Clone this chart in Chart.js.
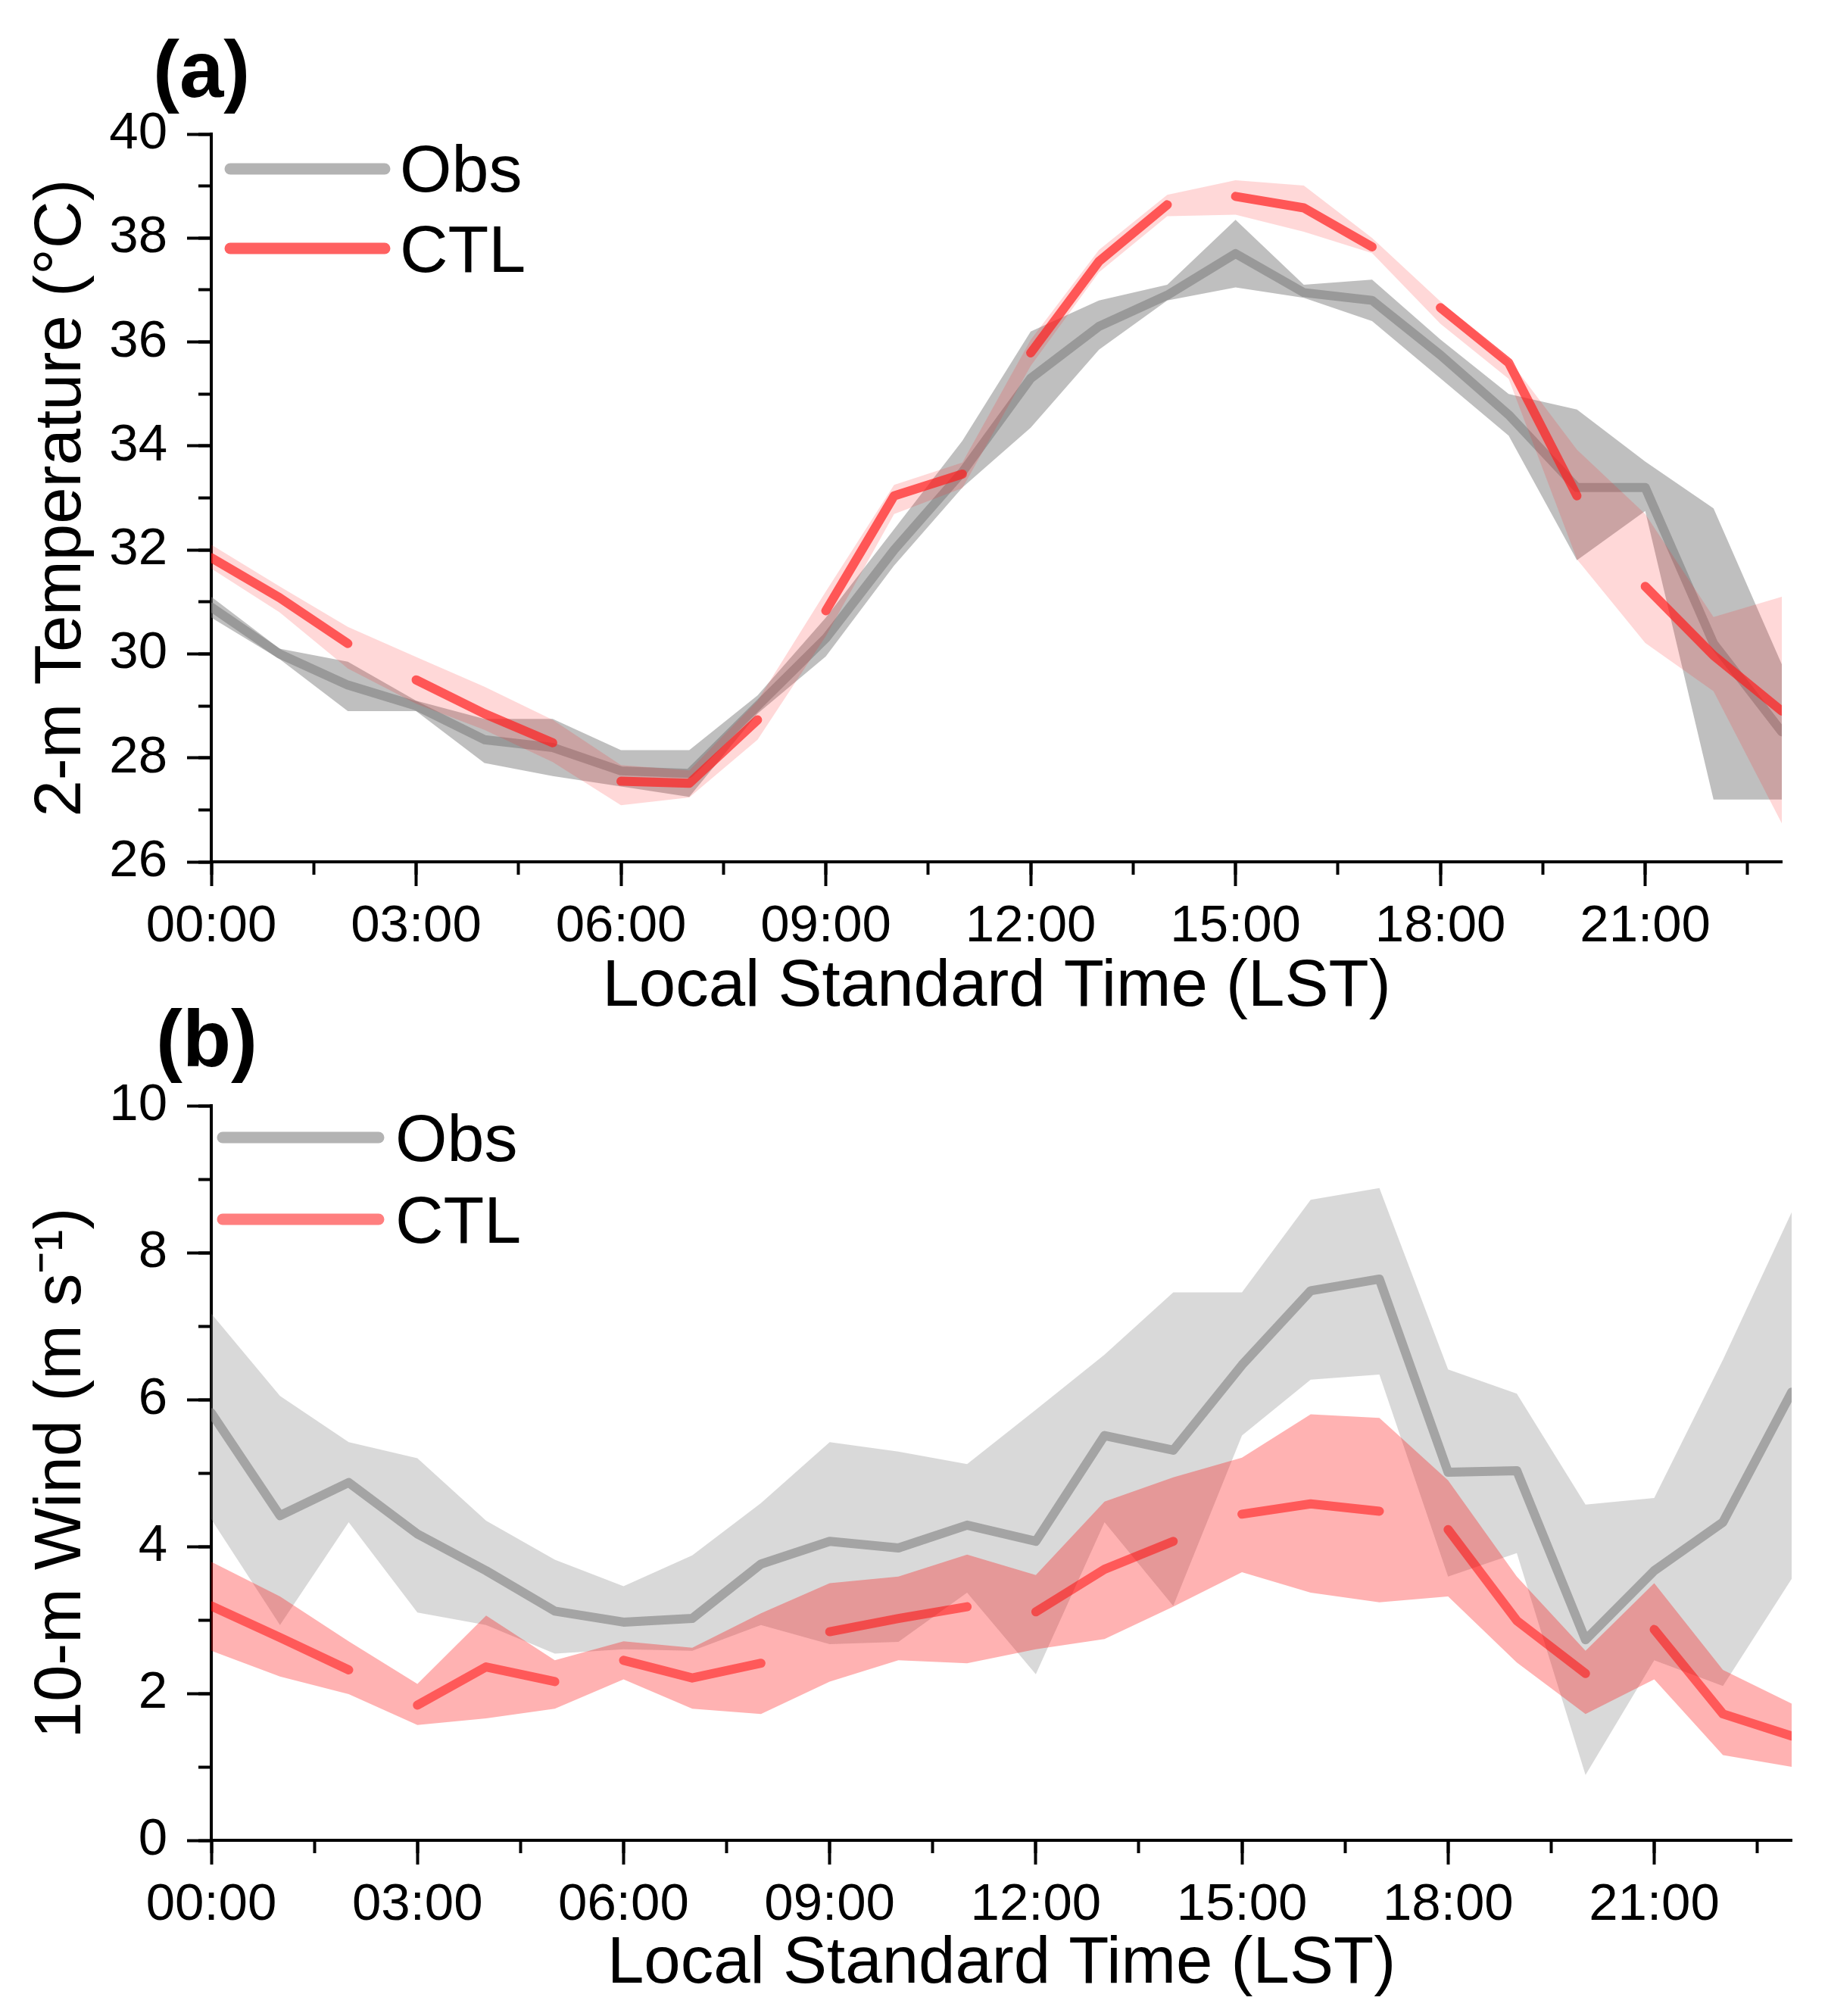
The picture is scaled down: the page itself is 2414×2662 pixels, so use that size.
<!DOCTYPE html>
<html><head><meta charset="utf-8">
<script src="https://cdn.jsdelivr.net/npm/chart.js@4.4.1/dist/chart.umd.min.js"></script>
<style>
html,body{margin:0;padding:0;background:#fff;width:2414px;height:2662px;overflow:hidden;}
canvas{position:absolute;left:0;top:0;}
</style>
</head><body>
<canvas id="ca" width="2414" height="2662"></canvas>
<canvas id="cb" width="2414" height="2662"></canvas>
<script>
// ---- data ----
const hours = [0,1,2,3,4,5,6,7,8,9,10,11,12,13,14,15,16,17,18,19,20,21,22,23];
const xTickLabels = ['00:00','03:00','06:00','09:00','12:00','15:00','18:00','21:00'];

// (a) 2-m temperature
const obsT   = [30.9,30.0,29.4,29.0,28.35,28.2,27.75,27.7,29.0,30.3,32.0,33.5,35.3,36.3,36.9,37.7,36.95,36.8,35.75,34.6,33.2,33.2,30.2,28.5];
const obsTHi = [31.1,30.1,29.85,29.1,28.75,28.75,28.15,28.15,29.2,30.7,32.4,34.1,36.2,36.8,37.1,38.35,37.1,37.2,36.05,35.0,34.7,33.7,32.8,29.8];
const obsTLo = [30.7,29.9,28.9,28.9,27.9,27.65,27.45,27.25,28.85,29.95,31.7,33.2,34.35,35.85,36.8,37.05,36.85,36.4,35.3,34.2,31.8,32.75,27.2,27.2];
const ctlT   = [31.85,31.08,30.2,29.5,28.85,28.29,27.55,27.51,28.73,30.83,33.04,33.46,35.79,37.55,38.64,38.8,38.58,37.83,36.66,35.6,33.04,31.3,29.97,28.9];
const ctlTHi = [32.1,31.3,30.52,29.94,29.37,28.73,27.86,27.76,29.1,31.2,33.25,33.68,36.04,37.77,38.83,39.11,39.01,38.0,36.78,35.67,33.93,32.69,30.71,31.1];
const ctlTLo = [31.64,30.8,29.72,29.04,28.54,27.92,27.09,27.24,28.35,30.34,32.69,33.19,35.54,37.34,38.42,38.45,38.12,37.71,36.35,35.29,31.82,30.21,29.28,26.74];

// (b) 10-m wind
const obsW   = [5.82,4.42,4.87,4.17,3.67,3.12,2.97,3.02,3.76,4.07,3.98,4.29,4.07,5.51,5.31,6.47,7.48,7.64,5.01,5.03,2.73,3.67,4.33,6.1];
const obsWHi = [7.17,6.05,5.42,5.2,4.35,3.82,3.46,3.88,4.59,5.42,5.29,5.12,5.86,6.61,7.46,7.46,8.72,8.88,6.41,6.08,4.57,4.66,6.54,8.55];
const obsWLo = [4.37,2.93,4.33,3.1,2.93,2.54,2.6,2.58,2.93,2.67,2.7,3.37,2.26,4.33,3.19,5.51,6.27,6.34,3.59,3.91,0.89,2.45,2.1,3.56];
const ctlW   = [3.19,2.76,2.32,1.84,2.36,2.16,2.45,2.21,2.41,2.84,3.02,3.18,3.11,3.69,4.07,4.44,4.58,4.48,4.23,2.99,2.27,2.87,1.72,1.42];
const ctlWHi = [3.79,3.32,2.71,2.13,3.06,2.45,2.71,2.62,3.09,3.5,3.59,3.89,3.61,4.61,4.94,5.21,5.8,5.75,4.9,3.59,2.58,3.5,2.32,1.86];
const ctlWLo = [2.58,2.23,1.99,1.57,1.66,1.79,2.19,1.79,1.72,2.16,2.45,2.41,2.6,2.74,3.18,3.65,3.37,3.24,3.32,2.42,1.72,2.19,1.16,1.0];

// ---- chart building ----
const FONT = "'Liberation Sans', Arial, Helvetica, sans-serif";
Chart.defaults.font.family = FONT;
Chart.defaults.color = '#000';

const pts = arr => hours.map((h, i) => ({x: h, y: arr[i]}));
const W = 2414, H = 2662, XAXIS_H = 220;

const deco = {
  id: 'deco',
  afterDraw(chart, args, o) {
    const ctx = chart.ctx;
    ctx.save();
    o.legend.forEach(it => {
      ctx.strokeStyle = it.color; ctx.lineWidth = 15; ctx.lineCap = 'round';
      ctx.beginPath(); ctx.moveTo(o.lx1, it.y); ctx.lineTo(o.lx2, it.y); ctx.stroke();
      ctx.fillStyle = '#000'; ctx.font = '88px ' + FONT; ctx.textBaseline = 'alphabetic';
      ctx.fillText(it.text, o.tx, it.base);
    });
    ctx.fillStyle = '#000';
    ctx.font = 'bold 105px ' + FONT; ctx.textBaseline = 'alphabetic';
    ctx.fillText(o.label, o.labelX, o.labelY);
    ctx.restore();
  }
};

function build(id, c) {
  const dashSeg = ctx => (ctx.p0DataIndex % 3 === 2 ? 'rgba(0,0,0,0)' : undefined);
  const band = (data, color, fill) => ({
    data: pts(data), borderWidth: 0, borderColor: 'rgba(0,0,0,0)', pointRadius: 0,
    backgroundColor: color, fill: fill, xAxisID: 'x', yAxisID: 'y', tension: 0
  });
  new Chart(document.getElementById(id), {
    type: 'line',
    data: {
      datasets: [
        {label: 'CTL', data: pts(c.ctl), borderColor: c.ctlLine, borderWidth: 12, borderCapStyle: 'round',
         borderJoinStyle: 'round', pointRadius: 0, fill: false, tension: 0, xAxisID: 'x', yAxisID: 'y',
         segment: {borderColor: dashSeg}},
        band(c.ctlHi, c.ctlBand, '+1'),
        band(c.ctlLo, 'rgba(0,0,0,0)', false),
        {label: 'Obs', data: pts(c.obs), borderColor: c.obsLine, borderWidth: 12, borderCapStyle: 'round',
         borderJoinStyle: 'round', pointRadius: 0, fill: false, tension: 0, xAxisID: 'x', yAxisID: 'y'},
        band(c.obsHi, c.obsBand, '+1'),
        band(c.obsLo, 'rgba(0,0,0,0)', false)
      ]
    },
    options: {
      responsive: false, animation: false, devicePixelRatio: 1,
      layout: {padding: {top: c.top, left: 0, right: W - c.right, bottom: H - c.bottom - XAXIS_H}},
      plugins: {
        legend: {display: false}, tooltip: {enabled: false},
        deco: {legend: c.legend, lx1: c.lx1, lx2: c.lx2, tx: c.tx, label: c.label, labelX: c.labelX, labelY: c.labelY}
      },
      scales: {
        x: {
          type: 'linear', position: 'bottom', min: 0, max: 23,
          afterFit: s => { s.height = XAXIS_H; },
          ticks: {stepSize: 3, includeBounds: false, autoSkip: false, maxRotation: 0, padding: 13,
                  font: {size: 69}, color: '#000', callback: v => xTickLabels[Math.round(v / 3)]},
          grid: {drawOnChartArea: false, tickLength: 32, tickWidth: 4, tickColor: '#000'},
          border: {color: '#000', width: 4},
          title: {display: true, text: 'Local Standard Time (LST)', font: {size: 87}, color: '#000',
                  padding: {top: 0, bottom: c.xTitlePad}}
        },
        y: {
          type: 'linear', position: 'left', min: c.yMin, max: c.yMax,
          afterFit: s => { s.width = 279; },
          ticks: {stepSize: 2, padding: 26, font: {size: 69}, color: '#000'},
          grid: {drawOnChartArea: false, tickLength: 32, tickWidth: 4, tickColor: '#000'},
          border: {color: '#000', width: 4},
          title: {display: true, text: c.yTitle, font: {size: 87}, color: '#000', padding: {top: 30, bottom: 0}}
        },
        xm: {
          type: 'linear', axis: 'x', position: {y: c.yMin}, min: 0, max: 23,
          ticks: {stepSize: 1.5, includeBounds: false, display: false, autoSkip: false},
          grid: {drawOnChartArea: false, tickLength: 17, tickWidth: 4, tickColor: '#000'},
          border: {display: false}
        },
        ym: {
          type: 'linear', axis: 'y', position: {x: 0}, min: c.yMin, max: c.yMax,
          ticks: {stepSize: 1, includeBounds: false, display: false, autoSkip: false},
          grid: {drawOnChartArea: false, tickLength: 17, tickWidth: 4, tickColor: '#000'},
          border: {display: false}
        }
      }
    },
    plugins: [deco]
  });
}

build('ca', {
  obs: obsT, obsHi: obsTHi, obsLo: obsTLo, ctl: ctlT, ctlHi: ctlTHi, ctlLo: ctlTLo,
  obsLine: 'rgba(128,128,128,0.6)', obsBand: 'rgba(128,128,128,0.5)',
  ctlLine: 'rgba(255,30,30,0.7)', ctlBand: 'rgba(255,40,40,0.18)',
  yMin: 26, yMax: 40, yTitle: '2-m Temperature (°C)',
  top: 177, bottom: 1138, right: 2353, xTitlePad: 2,
  lx1: 304, lx2: 508, tx: 528,
  legend: [{text: 'Obs', color: 'rgba(128,128,128,0.6)', y: 223, base: 253},
           {text: 'CTL', color: 'rgba(255,30,30,0.7)', y: 328, base: 359}],
  label: '(a)', labelX: 202, labelY: 128
});

build('cb', {
  obs: obsW, obsHi: obsWHi, obsLo: obsWLo, ctl: ctlW, ctlHi: ctlWHi, ctlLo: ctlWLo,
  obsLine: 'rgba(128,128,128,0.6)', obsBand: 'rgba(128,128,128,0.3)',
  ctlLine: 'rgba(255,0,0,0.5)', ctlBand: 'rgba(255,0,0,0.3)',
  yMin: 0, yMax: 10, yTitle: '10-m Wind (m s⁻¹)',
  top: 1460, bottom: 2430, right: 2366, xTitlePad: 4,
  lx1: 294, lx2: 500, tx: 522,
  legend: [{text: 'Obs', color: 'rgba(128,128,128,0.6)', y: 1502, base: 1533},
           {text: 'CTL', color: 'rgba(255,0,0,0.5)', y: 1610, base: 1641}],
  label: '(b)', labelX: 206, labelY: 1408
});
</script>
</body></html>
